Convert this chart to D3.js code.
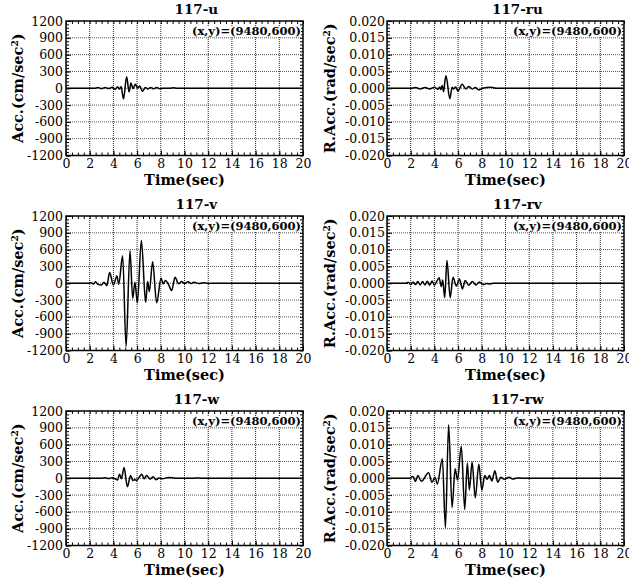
<!DOCTYPE html>
<html><head><meta charset="utf-8">
<script src="https://cdn.jsdelivr.net/npm/d3@7"></script>
<style>
body{margin:0;background:#fff}
svg{display:block}
text{font-family:"DejaVu Serif","Liberation Serif",serif;fill:#000}
</style></head>
<body><svg id="c" width="629" height="580"></svg>
<script>
// ---------- data ----------
const timeTicks = [0,2,4,6,8,10,12,14,16,18,20];
const accTicks = [-1200,-900,-600,-300,0,300,600,900,1200];
const rotTicks = [-0.020,-0.015,-0.010,-0.005,0.000,0.005,0.010,0.015,0.020];
const annotation = "(x,y)=(9480,600)";

const timeU = [0,2.4,2.7,3.0,3.3,3.6,3.9,4.15,4.35,4.5,4.65,4.85,5.12,5.32,5.48,5.65,5.85,6.05,6.22,6.45,6.7,6.9,7.15,7.4,7.65,7.9,8.2,8.8,9.05,9.35,20];
const accU  = [0,0,12,-8,12,-6,20,-20,25,-15,30,-190,205,-65,95,-5,70,5,40,-55,15,-15,15,-10,12,-8,0,0,10,0,0];

const timeRU = [0,2.0,2.4,2.8,3.2,3.6,4.0,4.3,4.45,4.55,4.65,4.78,4.87,4.98,5.3,5.5,5.62,5.8,5.98,6.35,6.65,6.9,7.2,7.45,7.75,8.05,8.8,9.2,20];
const rotU  = [0,0,0.0002,-0.0002,0.0002,-0.0002,0.0003,-0.0003,0.0004,-0.0004,0.0008,-0.0010,0.0016,0.0037,-0.0031,0.0003,-0.0002,0.0004,-0.0008,0.0012,-0.0002,0.0005,-0.0002,0.0002,-0.0005,0,0.0003,0,0];

const timeV = [0,1.9,2.1,2.3,2.5,2.7,3.0,3.2,3.45,3.68,4.0,4.3,4.45,4.78,5.07,5.4,5.63,5.82,6.02,6.36,6.72,6.89,7.03,7.31,7.65,8.02,8.2,8.4,8.65,8.92,9.2,9.5,9.75,10.0,10.3,10.55,10.8,11.2,11.6,12.0,12.5,20];
const accV  = [0,0,15,-15,25,-20,-30,20,-40,190,-30,130,-20,490,-1130,580,-270,20,-350,765,-340,30,-150,385,-350,90,-10,50,-20,-130,105,-10,30,-5,25,-5,20,-5,8,-3,0,0];

const timeRV = [0,1.6,1.8,2.0,2.2,2.4,2.6,2.8,3.0,3.2,3.4,3.6,3.8,4.0,4.2,4.4,4.58,4.7,4.87,5.06,5.33,5.57,5.85,6.12,6.36,6.6,6.9,7.2,7.5,7.8,8.1,8.4,8.7,9.0,20];
const rotV  = [0,0,0.0003,-0.0004,0.0004,-0.0004,0.0005,-0.0005,0.0005,-0.0005,0.0006,-0.0006,0.0007,-0.0006,0.0006,0.0016,-0.0010,0.0010,-0.0043,0.0068,-0.0043,0.0018,-0.0008,0.0013,-0.0017,0.0008,-0.0006,0.0005,-0.0005,0.0004,-0.0004,-0.0001,-0.0002,0,0];

const timeW = [0,3.0,3.3,3.6,3.9,4.15,4.35,4.52,4.68,4.9,5.18,5.45,5.65,5.8,5.95,6.15,6.4,6.6,6.8,7.1,7.35,7.6,7.85,8.1,8.7,9.2,10.8,11.1,11.4,20];
const accW  = [0,0,8,-6,10,-10,-30,70,-10,190,-150,50,-40,-20,-45,10,70,-10,50,-15,25,-25,5,-10,15,0,0,6,0,0];

const timeRW = [0,1.9,2.2,2.4,2.6,2.9,3.5,3.8,4.05,4.25,4.67,4.93,5.2,5.49,5.75,5.95,6.27,6.56,6.78,6.95,7.18,7.45,7.75,8.0,8.25,8.45,8.65,8.85,9.1,9.35,9.6,9.9,10.3,10.6,11.0,11.5,12,20];
const rotW  = [0,0,0.0005,-0.0010,0.0008,-0.0009,0.0016,-0.0012,0.0003,-0.0017,0.0058,-0.0147,0.0159,-0.0087,0.0028,-0.0005,0.0095,-0.0093,0.0045,-0.0035,0.0048,-0.0058,0.0042,-0.0035,0.0008,-0.0003,0.0008,-0.0008,0.0022,-0.0012,0.0003,-0.0003,0.0003,-0.0002,0.0001,0,0,0];

// ---------- layout ----------
const svg = d3.select("#c");
const W = 237, H = 134.5;
const colX = [66, 387];
const rowY = [21, 216, 411];
const fmtLoc = d3.formatLocale({decimal:".", thousands:",", grouping:[3], currency:["",""], minus:"-"});

const panels = [
  {title:"117-u",  col:0,row:0,t:timeU, v:accU,  ticks:accTicks, kind:"acc"},
  {title:"117-ru", col:1,row:0,t:timeRU,v:rotU,  ticks:rotTicks, kind:"rot"},
  {title:"117-v",  col:0,row:1,t:timeV, v:accV,  ticks:accTicks, kind:"acc"},
  {title:"117-rv", col:1,row:1,t:timeRV,v:rotV,  ticks:rotTicks, kind:"rot"},
  {title:"117-w",  col:0,row:2,t:timeW, v:accW,  ticks:accTicks, kind:"acc"},
  {title:"117-rw", col:1,row:2,t:timeRW,v:rotW,  ticks:rotTicks, kind:"rot"}
];

panels.forEach(p => {
  const x0 = colX[p.col], y0 = rowY[p.row];
  const g = svg.append("g").attr("transform", `translate(${x0},${y0})`);
  const x = d3.scaleLinear().domain([0,20]).range([0,W]);
  const yd = [p.ticks[0], p.ticks[p.ticks.length-1]];
  const y = d3.scaleLinear().domain(yd).range([H,0]);
  const step = p.ticks[1]-p.ticks[0];
  const minorY = d3.range(0, 41).map(i => yd[0] + i*step/5);
  const minorX = d3.range(0, 41).map(i => i*0.5);
  const fmt = p.kind === "acc" ? fmtLoc.format("d") : fmtLoc.format(".3f");

  // grid
  g.append("g").selectAll("line").data(timeTicks.slice(1,-1)).join("line")
    .attr("x1", d=>x(d)).attr("x2", d=>x(d)).attr("y1",0).attr("y2",H)
    .attr("stroke","#222").attr("stroke-width",1).attr("stroke-dasharray","1,1");
  g.append("g").selectAll("line").data(p.ticks.slice(1,-1)).join("line")
    .attr("y1", d=>y(d)).attr("y2", d=>y(d)).attr("x1",0).attr("x2",W)
    .attr("stroke","#555").attr("stroke-width",1).attr("stroke-dasharray","1,1");

  // minor ticks (all four sides, inward)
  const clean = s => s.call(a => a.select(".domain").remove());
  g.append("g").attr("transform",`translate(0,${H})`).call(d3.axisBottom(x).tickValues(minorX).tickSize(-3).tickFormat("")).call(clean);
  g.append("g").call(d3.axisTop(x).tickValues(minorX).tickSize(-3).tickFormat("")).call(clean);
  g.append("g").call(d3.axisLeft(y).tickValues(minorY).tickSize(-3).tickFormat("")).call(clean);
  g.append("g").attr("transform",`translate(${W},0)`).call(d3.axisRight(y).tickValues(minorY).tickSize(-3).tickFormat("")).call(clean);

  // major ticks with labels
  const xa = g.append("g").attr("transform",`translate(0,${H})`)
    .call(d3.axisBottom(x).tickValues(timeTicks).tickSize(-5).tickPadding(4).tickFormat(d3.format("d")))
    .call(clean);
  xa.attr("font-family",null).attr("font-size",12.5);
  const ya = g.append("g")
    .call(d3.axisLeft(y).tickValues(p.ticks).tickSize(-5).tickPadding(p.kind==="acc"?3:2).tickFormat(fmt))
    .call(clean);
  ya.attr("font-family",null).attr("font-size",12.5);
  g.selectAll(".tick line").attr("stroke","#000");

  // data line
  const line = d3.line().x(d=>x(d[0])).y(d=>y(d[1])).curve(d3.curveMonotoneX);
  g.append("path").datum(p.t.map((t,i)=>[t,p.v[i]]))
    .attr("d", line).attr("fill","none").attr("stroke","#000").attr("stroke-width",1.5);

  // frame
  g.append("rect").attr("width",W).attr("height",H).attr("fill","none")
    .attr("stroke","#000").attr("stroke-width",1.5);

  // annotation
  const at = g.append("text").attr("x",W-2).attr("y",14).attr("text-anchor","end")
    .attr("font-weight","bold").attr("font-size",11.5).text(annotation);
  const bb = at.node().getBBox();
  g.insert("rect", () => at.node()).attr("x",bb.x-1).attr("y",bb.y+2).attr("width",bb.width+1).attr("height",bb.height-4).attr("fill","#fff");

  // title
  g.append("text").attr("x",W*0.55).attr("y",-7.5).attr("text-anchor","middle")
    .attr("font-weight","bold").attr("font-size",13.5).text(p.title);

  // x label
  g.append("text").attr("x",W/2).attr("y",H+29).attr("text-anchor","middle")
    .attr("font-weight","bold").attr("font-size",14.5).text("Time(sec)");

  // y label
  const lx = p.kind==="acc" ? -48 : -57;
  const yl = g.append("text").attr("transform",`translate(${lx},${H/2}) rotate(-90)`)
    .attr("text-anchor","middle").attr("dy","0.35em").attr("font-weight","bold").attr("font-size",14.5);
  yl.append("tspan").text(p.kind==="acc" ? "Acc.(cm/sec" : "R.Acc.(rad/sec");
  yl.append("tspan").attr("font-size",9).attr("dy","-0.6em").text("2");
  yl.append("tspan").attr("dy","0.35em").text(")");
});
</script></body></html>
